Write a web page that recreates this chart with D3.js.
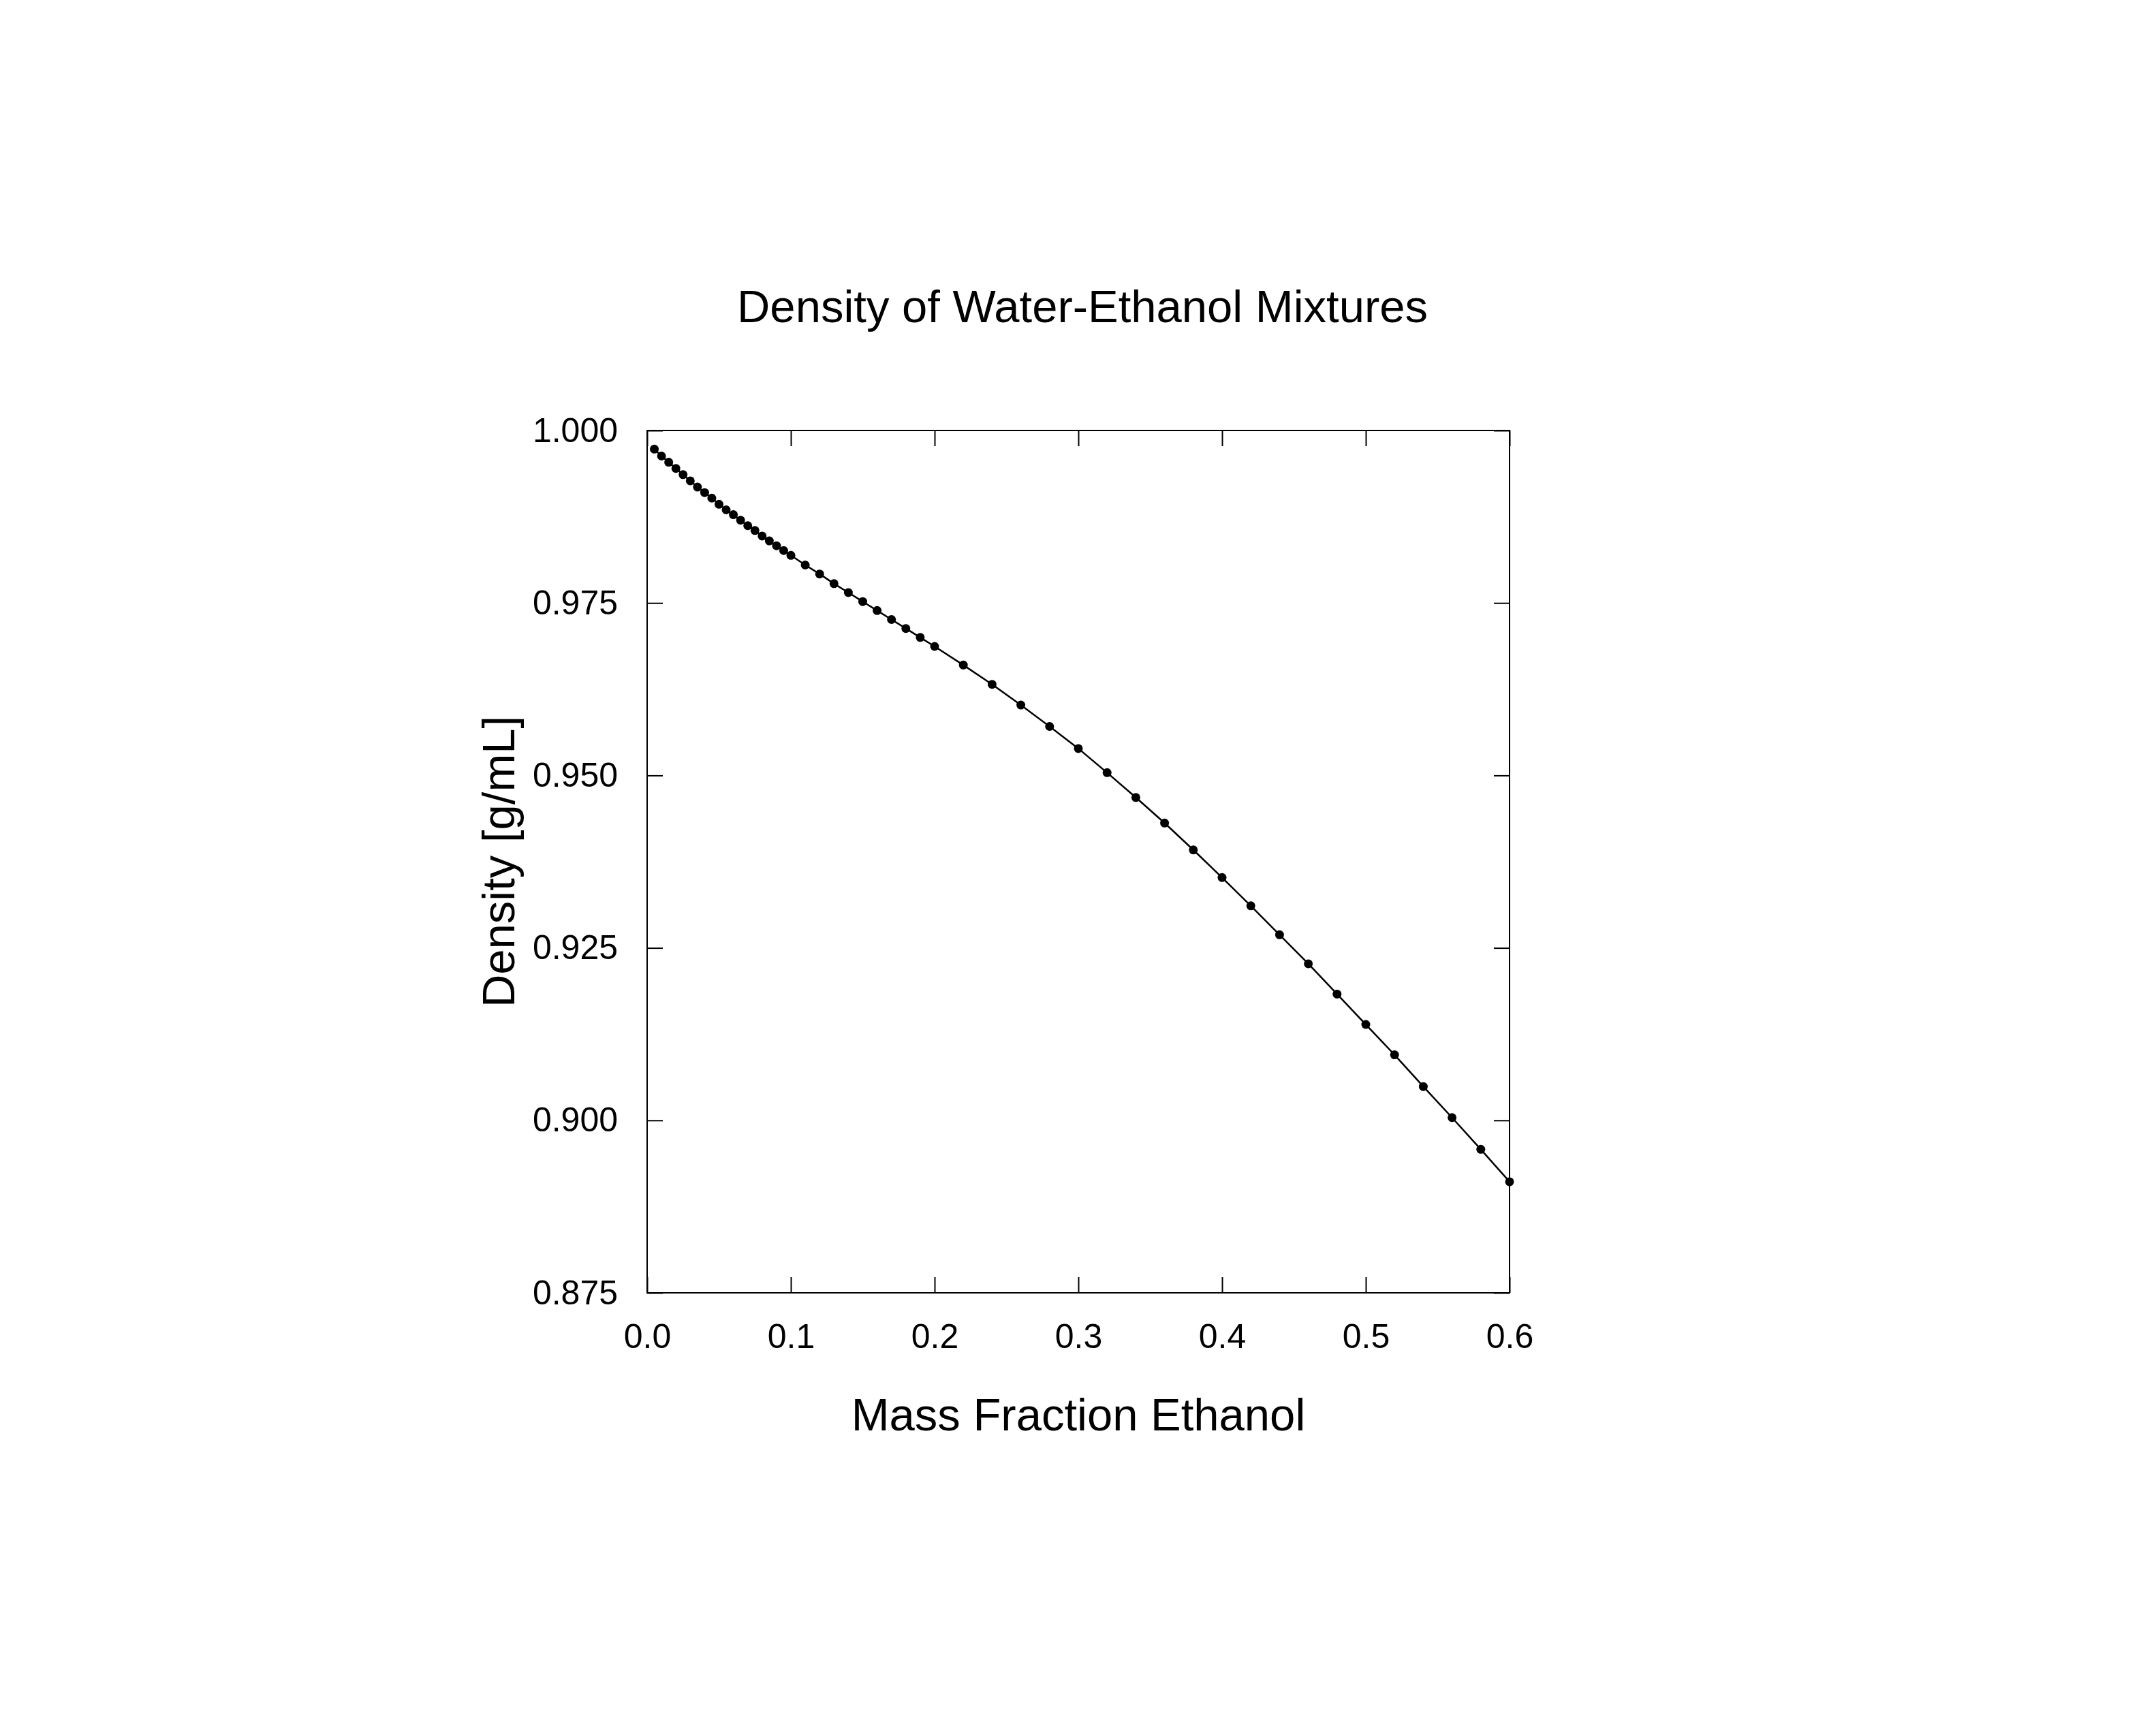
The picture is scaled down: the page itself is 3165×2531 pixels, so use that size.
<!DOCTYPE html>
<html>
<head>
<meta charset="utf-8">
<script src="https://cdn.jsdelivr.net/npm/d3@7"></script>
<style>
  body { margin: 0; background: #fff; }
  text { font-family: "Liberation Sans", Arial, sans-serif; fill: #000; }
</style>
</head>
<body>
<svg id="chart" width="3165" height="2531"></svg>
<script>
// mass fraction ethanol
const massFraction = [
  0.005, 0.010, 0.015, 0.020, 0.025, 0.030, 0.035, 0.040, 0.045, 0.050,
  0.055, 0.060, 0.065, 0.070, 0.075, 0.080, 0.085, 0.090, 0.095, 0.100,
  0.11, 0.12, 0.13, 0.14, 0.15, 0.16, 0.17, 0.18, 0.19, 0.20,
  0.22, 0.24, 0.26, 0.28, 0.30, 0.32, 0.34, 0.36, 0.38, 0.40,
  0.42, 0.44, 0.46, 0.48, 0.50, 0.52, 0.54, 0.56, 0.58, 0.60
];
// density g/mL
const density = [
  0.9973, 0.9963, 0.9954, 0.9945, 0.9936, 0.9927, 0.9918, 0.9910, 0.9902, 0.9893,
  0.9885, 0.9878, 0.9870, 0.9862, 0.9855, 0.9847, 0.9840, 0.9833, 0.9826, 0.9819,
  0.9805, 0.9792, 0.9778, 0.9765, 0.9752, 0.9739, 0.9726, 0.9713, 0.9700, 0.9687,
  0.9660, 0.9632, 0.9602, 0.9571, 0.9539, 0.9504, 0.9468, 0.9431, 0.9392, 0.9352,
  0.9311, 0.9269, 0.9227, 0.9183, 0.9139, 0.9095, 0.9049, 0.9004, 0.8958, 0.8911
];
const xTicks = [0, 0.1, 0.2, 0.3, 0.4, 0.5, 0.6];
const yTicks = [0.875, 0.900, 0.925, 0.950, 0.975, 1.000];

const svg = d3.select("#chart");
const pLeft = 950, pRight = 2216, pTop = 632, pBottom = 1898;
const x = d3.scaleLinear().domain([0, 0.6]).range([pLeft, pRight]);
const y = d3.scaleLinear().domain([0.875, 1.0]).range([pBottom, pTop]);
const tick = 23;

// ticks inside on all sides
svg.append("g").attr("transform", `translate(0,${pBottom})`)
  .call(d3.axisBottom(x).tickValues(xTicks).tickSize(-tick).tickPadding(tick + 22).tickFormat(d3.format(".1f")))
  .call(g => g.selectAll("text").style("font-size", "50px"));
svg.append("g").attr("transform", `translate(0,${pTop})`)
  .call(d3.axisTop(x).tickValues(xTicks).tickSize(-tick).tickFormat(""));
svg.append("g").attr("transform", `translate(${pLeft},0)`)
  .call(d3.axisLeft(y).tickValues(yTicks).tickSize(-tick).tickPadding(tick + 20).tickFormat(d3.format(".3f")))
  .call(g => g.selectAll("text").style("font-size", "50px"));
svg.append("g").attr("transform", `translate(${pRight},0)`)
  .call(d3.axisRight(y).tickValues(yTicks).tickSize(-tick).tickFormat(""));
svg.selectAll(".domain").remove();
svg.selectAll(".tick line").attr("stroke", "#000").attr("stroke-width", 2);

svg.append("rect").attr("x", pLeft).attr("y", pTop)
  .attr("width", pRight - pLeft).attr("height", pBottom - pTop)
  .attr("fill", "none").attr("stroke", "#000").attr("stroke-width", 2);

const pts = massFraction.map((m, i) => [m, density[i]]);
svg.append("path").datum(pts)
  .attr("fill", "none").attr("stroke", "#000").attr("stroke-width", 2.5)
  .attr("d", d3.line().x(d => x(d[0])).y(d => y(d[1])));
svg.selectAll("circle.pt").data(pts).enter().append("circle")
  .attr("cx", d => x(d[0])).attr("cy", d => y(d[1])).attr("r", 6.5).attr("fill", "#000");

svg.append("text").attr("x", (pLeft + pRight) / 2 + 6).attr("y", 473)
  .attr("text-anchor", "middle").style("font-size", "67px")
  .text("Density of Water-Ethanol Mixtures");
svg.append("text").attr("x", (pLeft + pRight) / 2).attr("y", 2100)
  .attr("text-anchor", "middle").style("font-size", "67px")
  .text("Mass Fraction Ethanol");
svg.append("text").attr("transform", `translate(755,${(pTop + pBottom) / 2}) rotate(-90)`)
  .attr("text-anchor", "middle").style("font-size", "67px")
  .text("Density [g/mL]");
</script>
</body>
</html>
